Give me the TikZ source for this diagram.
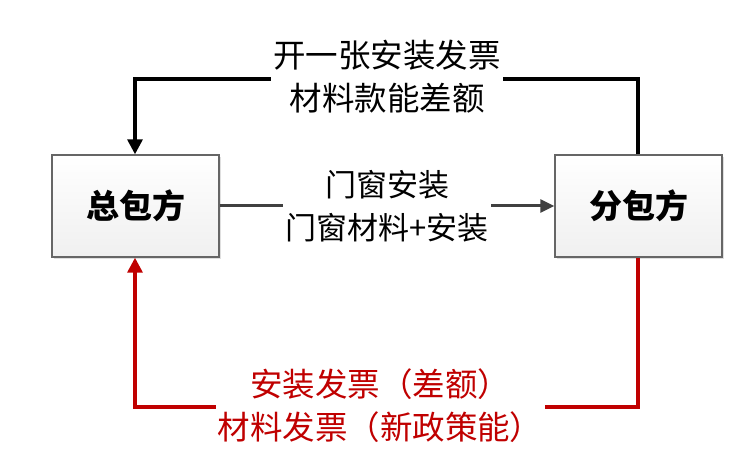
\documentclass[tikz,border=0pt]{standalone}
\usepackage{fontspec}
\setmainfont{Noto Sans CJK SC}
\usetikzlibrary{arrows.meta,shadows}
\definecolor{myred}{HTML}{C00000}
\definecolor{mygray}{HTML}{404040}
\begin{document}
\begin{tikzpicture}[x=1pt,y=-1pt,
  party/.style={draw=mygray!80,line width=1.4pt,top color=white,bottom color=gray!12,
    minimum width=167pt,minimum height=102pt,inner sep=0pt,
    font=\fontsize{33}{36}\selectfont\bfseries,
    drop shadow={shadow xshift=2pt,shadow yshift=-2pt,opacity=0.25}},
  lbl/.style={fill=white,inner sep=2pt,align=center,font=\fontsize{32.5}{43}\selectfont},
  blk/.style={line width=3.2pt,-{Triangle[length=15pt,width=15pt]}},
  gry/.style={line width=3pt,draw=mygray,-{Triangle[length=14pt,width=13pt]},color=mygray},
  rd/.style={line width=3.2pt,draw=myred,color=myred,-{Triangle[length=15pt,width=15pt]}}]
\useasboundingbox (0,0) rectangle (756,468);
\fill[white] (0,0) rectangle (756,468);
\node[party] (gc) at (135.5,206) {总包方};
\node[party] (sc) at (638.5,206) {分包方};
\coordinate (tr) at (638,79);
\coordinate (tl) at (135,79);
\coordinate (br) at (638,407);
\coordinate (bl) at (135,407);
\draw[blk] (sc.north -| tr) -- (tr) -- (tl) -- (gc.north -| tl);
\draw[gry] (gc.east) -- (sc.west);
\draw[rd] (sc.south -| br) -- (br) -- (bl) -- (gc.south -| bl);
\node[lbl] (t1) at (387,77) {开一张安装发票\\材料款能差额};
\node[lbl,font=\fontsize{31}{43}\selectfont] (t2) at (387,206) {门窗安装\\门窗材料+安装};
\node[lbl,text=myred] (t3) at (380,406) {安装发票（差额）\\材料发票（新政策能）};
\end{tikzpicture}
\end{document}
